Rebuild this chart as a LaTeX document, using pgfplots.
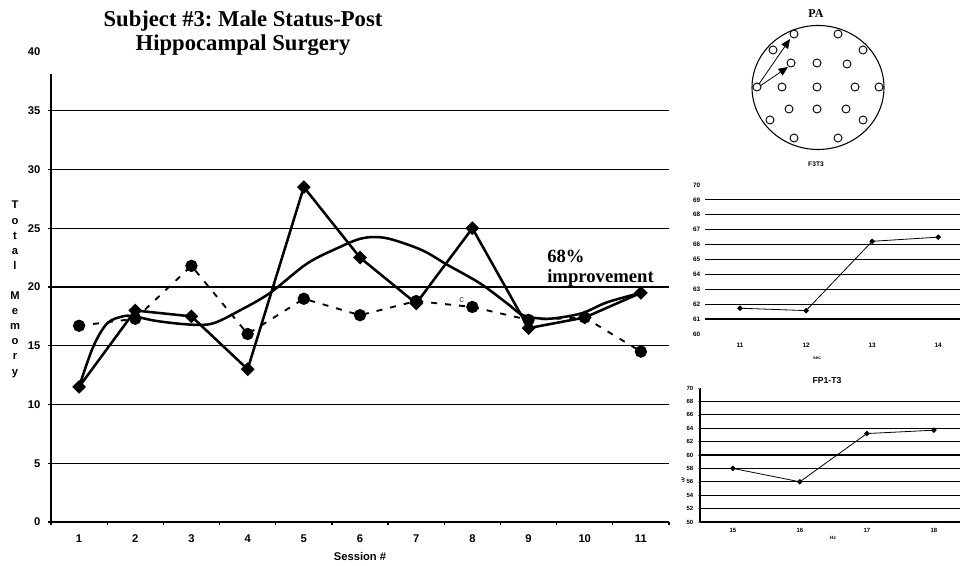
\documentclass[border=0pt]{standalone}
\usepackage{fontspec}
\setmainfont{Liberation Serif}
\setsansfont{Liberation Sans}
\usepackage{pgfplots}
\pgfplotsset{compat=1.18}
\usetikzlibrary{arrows.meta}
\frenchspacing

\begin{document}
\begin{tikzpicture}
\useasboundingbox (0pt,0pt) rectangle (720.75pt,424.5pt);

% ---------------- main chart ----------------
\begin{axis}[
  at={(38.25pt,33pt)}, anchor=south west,
  scale only axis, width=463.5pt, height=352.5pt,
  xmin=0.5, xmax=11.5, ymin=0, ymax=40,
  axis x line*=bottom, axis y line*=left,
  x axis line style={black, line width=1.3pt, -},
  y axis line style={draw=none},
  tick align=outside, major tick length=2.25pt,
  ytick={0,5,10,...,35}, extra y ticks={40},
  extra y tick style={grid=none, major tick length=0pt, yticklabel style={xshift=-2.25pt}},
  ymajorgrids, major grid style={black, line width=1pt},
  xtick={0.5,1.5,...,11.5}, xticklabels={},
  extra x ticks={1,2,3,4,5,6,7,8,9,10,11},
  extra x tick labels={1,2,3,4,5,6,7,8,9,10,11},
  extra x tick style={major tick length=0pt},
  tick style={black, line width=0.9pt},
  tick label style={font=\fontsize{8.4}{10}\selectfont\bfseries\sffamily},
  /pgf/number format/assume math mode=true,
  yticklabel style={xshift=-2.25pt},
  xticklabel style={yshift=-6pt},
  clip=false,
]
\draw[black, line width=1pt] (axis cs:0.5,0) -- (axis cs:0.5,38.1);
% trend line
\addplot[black, line width=1.9pt, smooth, tension=0.55, no marks] coordinates {
 (1.0,11.5) (1.25,14.9) (1.5,16.9) (1.78,17.5) (1.98,17.5) (2.39,17.1)
 (2.98,16.8) (3.38,16.9) (3.86,18.0) (4.40,19.5) (5.06,22.0) (5.64,23.4)
 (6.0,24.1) (6.3,24.25) (6.6,24.0) (7.12,23.1) (7.55,21.9) (8.14,20.3)
 (8.62,18.6) (8.9,17.6) (9.26,17.3) (9.56,17.4) (9.97,17.8) (10.4,18.7)
 (11.0,19.5)};
% circles, dashed
\addplot[black, line width=1.4pt, dash pattern=on 4.5pt off 6pt,
  mark=*, mark size=3.9pt, mark options={solid}] coordinates {
 (1,16.7) (2,17.3) (3,21.8) (4,16.0) (5,19.0) (6,17.6)
 (7,18.8) (8,18.3) (9,17.2) (10,17.4) (11,14.5)};
% diamonds, solid
\addplot[black, line width=1.9pt, mark=square*, mark size=2.7pt,
  mark options={rotate=45, solid}] coordinates {
 (1,11.5) (2,18.0) (3,17.5) (4,13.0) (5,28.5) (6,22.5)
 (7,18.6) (8,25.0) (9,16.5) (10,17.4) (11,19.5)};
\node[font=\fontsize{7}{8}\selectfont\sffamily, text=black!70] at (axis cs:7.81,18.9) {c};
\end{axis}

% title
\node[anchor=base, font=\fontsize{17}{19}\selectfont\bfseries] at (182.25pt,404.25pt) {Subject \#3: Male Status-Post};
\node[anchor=base, font=\fontsize{17}{19}\selectfont\bfseries] at (182.25pt,386.25pt) {Hippocampal Surgery};
% annotation
\node[anchor=base west, inner sep=0pt, font=\fontsize{14}{16}\selectfont\bfseries] at (410.25pt,227.25pt) {68\%};
\node[anchor=base west, inner sep=0pt, font=\fontsize{14}{16}\selectfont\bfseries] at (410.25pt,212.25pt) {improvement};
% y label (stacked letters)
\foreach \l [count=\i from 0] in {T,o,t,a,l,{},M,e,m,o,r,y}{
  \node[anchor=base, inner sep=0pt, font=\fontsize{8.4}{10}\selectfont\bfseries\sffamily] at (11.25pt,{267.75pt-11.325pt*\i}) {\l};
}
% x label
\node[anchor=base, inner sep=0pt, font=\fontsize{8.4}{10}\selectfont\bfseries\sffamily] at (270pt,3.75pt) {Session \#};

% ---------------- head diagram ----------------
\begin{axis}[
  at={(558.75pt,308.25pt)}, anchor=south west,
  scale only axis, width=112.5pt, height=101.25pt,
  xmin=745, xmax=895, ymin=20, ymax=155, y dir=reverse,
  hide axis, clip=false,
]
\draw[black, line width=0.8pt] (axis cs:818,87.5) ellipse [x radius=49.5pt, y radius=46.5pt];
\addplot[only marks, mark=o, mark size=3pt, mark options={black, line width=0.7pt}] coordinates {
 (794,34) (838,34) (773,50) (863,50) (791,63) (817,63) (847,64)
 (757,87) (782,87) (817,87) (855,87) (879,87)
 (789,109) (817,109) (846,109) (770,120) (863,120) (794,138) (838,138)};
\draw[black, line width=0.6pt, -{Triangle[length=7pt,width=6pt]}] (axis cs:759,84) -- (axis cs:790,39);
\draw[black, line width=0.6pt, -{Triangle[length=7pt,width=6pt]}] (axis cs:760,86) -- (axis cs:788,67);
\end{axis}
\node[font=\fontsize{9}{10}\selectfont\bfseries] at (612pt,414pt) {PA};
\node[font=\fontsize{5}{6}\selectfont\bfseries\sffamily] at (612pt,301.5pt) {F3T3};

% ---------------- inset 2 ----------------
\begin{axis}[
  at={(528.75pt,174pt)}, anchor=south west,
  scale only axis, width=191.25pt, height=111.75pt,
  xmin=-0.53, xmax=3.33, ymin=60, ymax=70,
  axis line style={draw=none}, tick style={draw=none},
  ytick={61,62,...,69}, extra y ticks={60,70}, extra y tick style={grid=none},
  ymajorgrids, major grid style={black, line width=0.9pt},
  xtick={0,1,2,3}, xticklabels={11,12,13,14},
  xticklabel style={yshift=-3pt},
  tick label style={font=\fontsize{4.8}{5}\selectfont\bfseries\sffamily},
  /pgf/number format/assume math mode=true,
  clip=false,
]
\addplot[black, line width=0.6pt, mark=square*, mark size=1.2pt, mark options={rotate=45}] coordinates {
 (0,61.73) (1,61.57) (2,66.22) (3,66.5)};
\end{axis}
\node[font=\fontsize{3.5}{4}\selectfont\bfseries\sffamily] at (612.75pt,156pt) {sec};

% ---------------- inset 3 ----------------
\begin{axis}[
  at={(525pt,33pt)}, anchor=south west,
  scale only axis, width=195pt, height=100.5pt,
  xmin=-0.49, xmax=3.39, ymin=50, ymax=70,
  axis x line*=bottom, axis y line*=left,
  axis line style={black, line width=0.8pt, -},
  tick align=outside, major tick length=1.5pt,
  ytick={52,54,...,68}, extra y ticks={50,70}, extra y tick style={grid=none},
  ymajorgrids, major grid style={black, line width=0.8pt},
  xtick={0,1,2,3}, xticklabels={15,16,17,18},
  x tick style={draw=none},
  tick label style={font=\fontsize{4.5}{5}\selectfont\bfseries\sffamily},
  /pgf/number format/assume math mode=true,
  clip=false,
]
\addplot[black, line width=0.6pt, mark=square*, mark size=1.2pt, mark options={rotate=45}] coordinates {
 (0,58) (1,56) (2,63.2) (3,63.7)};
\end{axis}
\node[font=\fontsize{6.5}{7}\selectfont\bfseries\sffamily] at (620.25pt,138.75pt) {FP1-T3};
\node[rotate=90, font=\fontsize{3.5}{4}\selectfont\bfseries\sffamily] at (512.25pt,64.5pt) {uV};
\node[font=\fontsize{3.5}{4}\selectfont\bfseries\sffamily] at (624.75pt,21pt) {Hz};
\end{tikzpicture}
\end{document}
